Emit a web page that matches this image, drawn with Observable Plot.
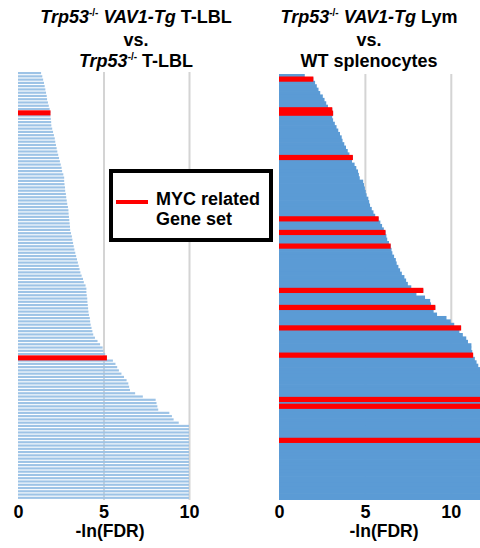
<!DOCTYPE html>
<html><head><meta charset="utf-8">
<script src="https://cdn.jsdelivr.net/npm/d3@7"></script>
<script src="https://cdn.jsdelivr.net/npm/@observablehq/plot@0.6"></script>
<style>
body{margin:0;background:#fff;font-family:"Liberation Sans",Arial,sans-serif;}
#root{position:relative;width:480px;height:548px;overflow:hidden;background:#fff;}
.title{position:absolute;top:7px;width:240px;text-align:center;font-weight:bold;font-size:18px;line-height:21px;white-space:nowrap;color:#000;}
.title .sup{font-size:10px;position:relative;top:-7px;}
.panel{position:absolute;top:60px;}
#legend{position:absolute;left:109px;top:169px;width:164px;height:73px;box-sizing:border-box;border:4px solid #000;background:#fff;z-index:5;}
#legend .swatch{position:absolute;left:3px;top:27px;width:32px;height:4px;background:#ff0000;}
#legend .txt{position:absolute;left:43px;top:16px;font-weight:bold;font-size:18px;line-height:20px;white-space:nowrap;color:#000;}
</style>
</head><body>
<div id="root">
  <div class="title" style="left:16px"><i>Trp53</i><span class="sup">-/-</span> <i>VAV1-Tg</i> T-LBL<br>vs.<br><i>Trp53</i><span class="sup">-/-</span> T-LBL</div>
  <div class="title" style="left:249px"><i>Trp53</i><span class="sup">-/-</span> <i>VAV1-Tg</i> Lym<br>vs.<br>WT splenocytes</div>
  <div class="panel" id="left" style="left:0px"></div>
  <div class="panel" id="right" style="left:260px"></div>
  <div id="legend"><div class="swatch"></div><div class="txt">MYC related<br>Gene set</div></div>
</div>
<script>
// -ln(FDR) per gene set, left panel (Trp53-/- VAV1-Tg T-LBL vs Trp53-/- T-LBL), top to bottom
const leftValues = [
  1.35,1.42,1.47,1.52,1.56,1.6,1.64,1.68,1.7,1.75,
  1.8,1.85,1.9,1.9,1.92,1.94,1.95,2.0,2.05,2.1,
  2.15,2.18,2.22,2.26,2.3,2.35,2.4,2.45,2.5,2.55,
  2.58,2.65,2.7,2.7,2.72,2.75,2.76,2.8,2.82,2.85,
  2.88,2.92,2.95,2.96,2.98,3.0,3.02,3.04,3.05,3.1,
  3.15,3.18,3.22,3.26,3.3,3.35,3.4,3.45,3.5,3.55,
  3.6,3.65,3.72,3.8,3.85,3.95,4.0,4.0,4.02,4.05,
  4.06,4.08,4.1,4.12,4.15,4.2,4.22,4.25,4.3,4.35,
  4.4,4.5,4.65,4.8,4.95,5.0,5.1,5.2,5.55,5.7,
  5.8,5.9,6.05,6.2,6.35,6.45,6.5,6.55,6.85,7.3,
  8.05,8.1,8.15,8.2,8.85,9.0,9.1,9.4,10,10,
  10,10,10,10,10,10,10,10,10,10,
  10,10,10,10,10,10,10,10,10,10,10
];
// indices of MYC related gene sets (left)
const leftMyc = [12, 87];

// right panel (Trp53-/- VAV1-Tg Lym vs WT splenocytes)
const rightValues = [
  1.5,2.0,2.1,2.2,2.3,2.4,2.55,2.65,2.75,2.85,
  3.1,3.15,3.1,3.15,3.25,3.35,3.45,3.55,3.65,3.7,
  3.8,3.9,4.0,4.1,4.3,4.25,4.4,4.5,4.6,4.65,
  4.7,4.9,4.95,5.0,5.05,5.1,5.2,5.25,5.3,5.4,
  5.5,5.6,5.8,5.9,6.0,6.1,6.2,6.25,6.3,6.4,
  6.5,6.55,6.6,6.7,6.8,6.85,6.95,7.05,7.15,7.3,
  7.4,7.5,7.7,8.4,8.0,8.5,8.8,8.85,9.1,9.0,
  9.2,9.75,10.0,10.2,10.6,10.5,10.7,10.9,11.0,11.2,
  11.2,11.25,11.3,11.4,11.5,11.6,12,12,12,12,
  12,12,12,12,12,12,12,12,12,12,
  12,12,12,12,12,12,12,12,12,12,
  12,12,12,12,12,12,12,12,12,12,
  12,12,12,12,12
];
const rightMyc = [1, 10, 11, 24, 42, 46, 50, 63, 68, 74, 82, 95, 97, 107];

const xTicks = [0, 5, 10];
const gridTicks = [5, 10];
const axisTitle = "-ln(FDR)";

function panel({values, myc, width, marginLeft, marginRight, marginTop, xMax, barColor, insetBottom, labelDx}) {
  const rows = values.map((v, i) => ({i, v}));
  const red = myc.map(i => ({i, v: values[i]}));
  return Plot.plot({
    width, height: 488,
    marginLeft, marginRight, marginTop, marginBottom: 48,
    style: {fontFamily: "'Liberation Sans', Arial, sans-serif", fontWeight: "bold", fontSize: "18px", color: "#000", background: "transparent", overflow: "visible"},
    x: {domain: [0, xMax], axis: null},
    y: {type: "band", domain: d3.range(values.length), padding: 0, axis: null},
    marks: [
      Plot.gridX(gridTicks, {stroke: "#d4d4d4", strokeOpacity: 1, strokeWidth: 2}),
      Plot.barX(rows, {x: "v", y: "i", fill: barColor, insetBottom, clip: true}),
      Plot.barX(red, {x: "v", y: "i", fill: "#ff0000", insetTop: -0.9, insetBottom: -0.9, clip: true}),
      Plot.axisX(xTicks, {tickSize: 0, tickPadding: 5, fontSize: 18, fontWeight: "bold", label: null, fill: "#000"}),
      Plot.text([axisTitle], {frameAnchor: "bottom", dy: 31, dx: labelDx, lineAnchor: "middle", fontSize: 17.5, fontWeight: "bold", fill: "#000"})
    ]
  });
}

document.getElementById("left").append(panel({
  values: leftValues, myc: leftMyc, width: 230, marginLeft: 18, marginRight: 41, marginTop: 12,
  xMax: 10, barColor: "#9dc3e6", insetBottom: 1.1, labelDx: 6
}));
document.getElementById("right").append(panel({
  values: rightValues, myc: rightMyc, width: 220, marginLeft: 19, marginRight: 0, marginTop: 14,
  xMax: 11.7, barColor: "#5b9bd5", insetBottom: -0.7, labelDx: 4
}));
</script>
</body></html>
